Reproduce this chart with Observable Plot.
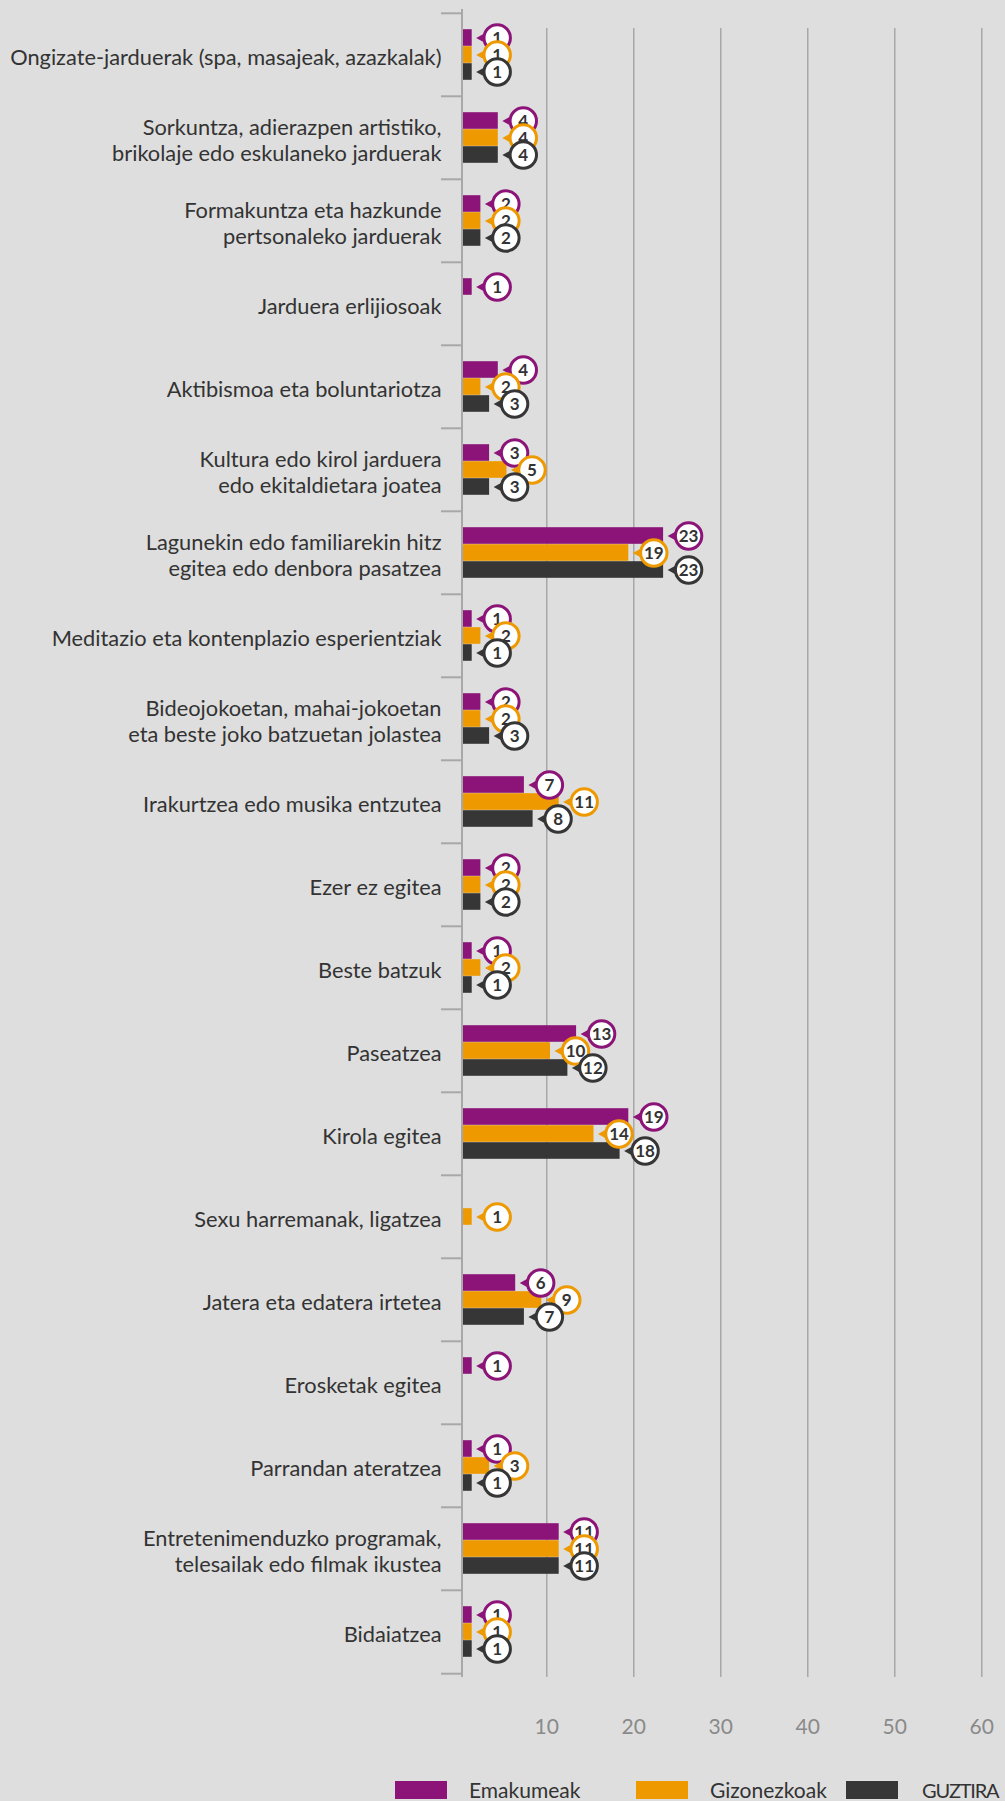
<!DOCTYPE html>
<html>
<head>
<meta charset="utf-8">
<script src="https://cdn.jsdelivr.net/npm/d3@7"></script>
<script src="https://cdn.jsdelivr.net/npm/@observablehq/plot@0.6"></script>
<style>
  html, body { margin: 0; padding: 0; background: #dedede; }
  body { position: relative; width: 1005px; height: 1801px; overflow: hidden; font-family: Lato, "Noto Sans", sans-serif; }
  #chart svg { display: block; }
  .legend-item { position: absolute; top: 1781px; display: flex; align-items: center; height: 18px; }
  .legend-item .sw { width: 52px; height: 18px; }
  .legend-item .lb { margin-left: 22px; font-size: 21px; color: #333; line-height: 18px; white-space: nowrap; }
  .legend-item .lb.caps { font-size: 20px; letter-spacing: -1.2px; margin-left: 24px; }
</style>
</head>
<body>
<div id="chart"></div>
<div id="legend"></div>
<script>
// ---- data ----
const categories = [
  "Ongizate-jarduerak (spa, masajeak, azazkalak)",
  "Sorkuntza, adierazpen artistiko,\nbrikolaje edo eskulaneko jarduerak",
  "Formakuntza eta hazkunde\npertsonaleko jarduerak",
  "Jarduera erlijiosoak",
  "Aktibismoa eta boluntariotza",
  "Kultura edo kirol jarduera\nedo ekitaldietara joatea",
  "Lagunekin edo familiarekin hitz\negitea edo denbora pasatzea",
  "Meditazio eta kontenplazio esperientziak",
  "Bideojokoetan, mahai-jokoetan\neta beste joko batzuetan jolastea",
  "Irakurtzea edo musika entzutea",
  "Ezer ez egitea",
  "Beste batzuk",
  "Paseatzea",
  "Kirola egitea",
  "Sexu harremanak, ligatzea",
  "Jatera eta edatera irtetea",
  "Erosketak egitea",
  "Parrandan ateratzea",
  "Entretenimenduzko programak,\ntelesailak edo filmak ikustea",
  "Bidaiatzea"
];
const seriesNames = ["Emakumeak", "Gizonezkoak", "GUZTIRA"];
const emakumeak   = [1, 4, 2, 1,    4, 3, 23, 1, 2, 7,  2, 1, 13, 19, null, 6, 1,    1, 11, 1];
const gizonezkoak = [1, 4, 2, null, 2, 5, 19, 2, 2, 11, 2, 2, 10, 15, 1,    9, null, 3, 11, 1];
const guztira     = [1, 4, 2, null, 3, 3, 23, 1, 3, 8,  2, 1, 12, 18, null, 7, null, 1, 11, 1];
// printed label where it differs from the bar length
const labelOverrides = {Gizonezkoak: {13: "14"}};
const xTicks = [10, 20, 30, 40, 50, 60];

// ---- styles ----
const colors = {Emakumeak: "#8c1478", Gizonezkoak: "#ee9900", GUZTIRA: "#363636"};
const W = 1005, H = 1760, plotTop = 9, plotBottom = 1677;
const step = (plotBottom - plotTop) / categories.length;
const barH = 17;
const inset = (step - barH) / 2;
const barShift = 3.7;     // bars start just right of the axis line
const bubbleShift = barShift + 25;

const seriesValues = {Emakumeak: emakumeak, Gizonezkoak: gizonezkoak, GUZTIRA: guztira};
const offsets = {Emakumeak: -barH, Gizonezkoak: 0, GUZTIRA: barH};

function rowsFor(name) {
  const vals = seriesValues[name];
  const ov = labelOverrides[name] || {};
  return categories.map((c, i) => ({category: c, value: vals[i], label: ov[i] ?? String(vals[i])}))
    .filter(d => d.value != null);
}

const pointer = {
  draw(ctx) {
    ctx.moveTo(-21, 0);
    ctx.lineTo(-11, -5.5);
    ctx.lineTo(-11, 5.5);
    ctx.closePath();
  }
};

const marks = [
  // grid lines
  Plot.ruleX(xTicks, {x: d => d, stroke: "#9a9a9a", strokeWidth: 1.2, insetTop: 19}),
  // category boundary ticks
  Plot.ruleY(categories, {y: d => d, dy: -step / 2, stroke: "#a8a8a8", strokeWidth: 2, insetRight: W - 462.5}),
  Plot.ruleY(categories.slice(-1), {y: d => d, dy: step / 2, stroke: "#a8a8a8", strokeWidth: 2, insetRight: W - 462.5}),
  // axis line
  Plot.ruleX([0], {x: d => d, dx: 2.2, stroke: "#a8a8a8", strokeWidth: 2}),
  // category labels
  Plot.text(categories, {y: d => d, text: d => d, frameAnchor: "left", textAnchor: "end", dy: 2,
    fontSize: 21.8, lineHeight: 1.2, fill: "#333"}),
  // x tick labels
  Plot.text(xTicks, {x: d => d, text: d => String(d), frameAnchor: "bottom", dy: 56,
    fontSize: 21, fill: "#8a8a8a"})
];

for (const s of seriesNames) {
  marks.push(Plot.barX(rowsFor(s), {x: "value", y: "category", fill: colors[s],
    insetTop: inset, insetBottom: inset, dy: offsets[s], dx: barShift}));
}
for (const s of seriesNames) {
  const rows = rowsFor(s);
  marks.push(Plot.dot(rows, {x: "value", y: "category", dx: bubbleShift, dy: offsets[s],
    symbol: pointer, fill: colors[s], stroke: "none"}));
  marks.push(Plot.dot(rows, {x: "value", y: "category", dx: bubbleShift, dy: offsets[s],
    r: 13.2, fill: "white", stroke: colors[s], strokeWidth: 3}));
  marks.push(Plot.text(rows, {x: "value", y: "category", text: "label", dx: bubbleShift, dy: offsets[s] + 1,
    fill: "#333", fontSize: 17, fontWeight: 700}));
}

const chart = Plot.plot({
  width: W,
  height: H,
  marginTop: plotTop,
  marginBottom: H - plotBottom,
  marginLeft: 441,
  marginRight: 0,
  style: {background: "transparent", fontFamily: "Lato, 'Noto Sans', sans-serif"},
  x: {domain: [0, 60], range: [459.3, 981.3], axis: null},
  y: {domain: categories, padding: 0, axis: null},
  marks
});
document.getElementById("chart").appendChild(chart);

// legend
const legendLeft = {Emakumeak: 395, Gizonezkoak: 636, GUZTIRA: 846};
const legend = document.getElementById("legend");
for (const s of seriesNames) {
  const item = document.createElement("div");
  item.className = "legend-item";
  item.style.left = legendLeft[s] + "px";
  const sw = document.createElement("div");
  sw.className = "sw";
  sw.style.background = colors[s];
  const lb = document.createElement("div");
  lb.className = s === s.toUpperCase() ? "lb caps" : "lb";
  lb.textContent = s;
  item.appendChild(sw);
  item.appendChild(lb);
  legend.appendChild(item);
}
</script>
</body>
</html>
